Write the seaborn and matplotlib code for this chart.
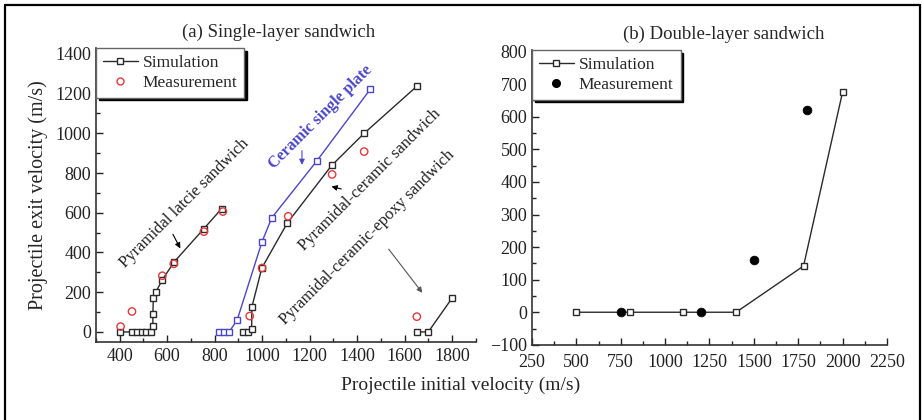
import numpy as np
import pandas as pd
import matplotlib
matplotlib.use('Agg')
import matplotlib.pyplot as plt
from matplotlib.lines import Line2D
from matplotlib.ticker import MultipleLocator
import seaborn as sns

# ─── Datos: (a) sandwich de una capa ────────────────────────────────────────
lattice_sim_v0 = [400, 453, 473, 493, 513, 532, 540, 540, 542, 553, 580, 630, 755, 830]
lattice_sim_vr = [0, 0, 0, 0, 0, 0, 30, 90, 172, 202, 263, 353, 520, 621]
lattice_exp_v0 = [404, 452, 580, 628, 755, 835]
lattice_exp_vr = [27, 103, 283, 343, 505, 606]

plate_sim_v0 = [819, 840, 861, 895, 1000, 1041, 1232, 1456]
plate_sim_vr = [0, 0, 0, 60, 455, 575, 863, 1222]

pc_sim_v0 = [918, 940, 956, 957, 999, 1106, 1293, 1430, 1652]
pc_sim_vr = [0, 0, 15, 125, 322, 548, 838, 1000, 1237]
pc_exp_v0 = [948, 1000, 1110, 1295, 1430]
pc_exp_vr = [80, 322, 582, 793, 908]

pce_sim_v0 = [1652, 1700, 1800]
pce_sim_vr = [0, 0, 170]
pce_exp_v0 = [1652]
pce_exp_vr = [77]

# ─── Datos: (b) sandwich de doble capa ──────────────────────────────────────
double_sim_v0 = [500, 800, 1100, 1400, 1780, 2000]
double_sim_vr = [0, 0, 0, 0, 142, 676]
double_exp_v0 = [750, 1200, 1500, 1800]
double_exp_vr = [0, 0, 160, 622]

# ─── Estilo ─────────────────────────────────────────────────────────────────
sns.set_style('ticks')
plt.rcParams['font.family'] = ['Liberation Serif', 'DejaVu Serif']

BLACK = '#2a2a2a'
BLUE = '#4a46c8'
RED = '#e03a3a'

sim_kw = dict(marker='s', markersize=5, markerfacecolor='white',
              markeredgewidth=1.0, linewidth=1.0,
              estimator=None, sort=False)


def sim_line(ax, x, y, color, label=None):
    df = pd.DataFrame({'v0': x, 'vr': y})
    sns.lineplot(data=df, x='v0', y='vr', ax=ax, color=color,
                 markeredgecolor=color, label=label, legend=False, **sim_kw)


def exp_points(ax, x, y, filled=False, label=None):
    df = pd.DataFrame({'v0': x, 'vr': y})
    if filled:
        sns.scatterplot(data=df, x='v0', y='vr', ax=ax, color='black',
                        s=40, marker='o', edgecolor='black', label=label,
                        legend=False, zorder=3)
    else:
        sns.scatterplot(data=df, x='v0', y='vr', ax=ax, facecolor='none',
                        edgecolor=RED, s=28, marker='o', linewidth=1.0,
                        label=label, legend=False, zorder=3)


def style_axis(ax, xpad=4.5):
    sns.despine(ax=ax)
    for sp in ['left', 'bottom']:
        ax.spines[sp].set_linewidth(1.2)
        ax.spines[sp].set_color('#333333')
    ax.tick_params(which='both', direction='in', labelsize=13, colors='#222222')
    ax.tick_params(which='major', length=5, width=1)
    ax.tick_params(which='minor', length=3, width=1)
    ax.tick_params(axis='x', pad=xpad)
    ax.set_xlabel('')
    ax.set_ylabel('')


def add_legend(ax, handles):
    ax.legend(handles, ['Simulation', 'Measurement'], loc='upper left',
              bbox_to_anchor=(0.0, 1.0), fontsize=12.5, frameon=True,
              fancybox=False, edgecolor='#666666', framealpha=1,
              shadow={'color': 'black', 'alpha': 1}, handlelength=2.0,
              handletextpad=0.3, borderpad=0.4, labelspacing=0.2,
              borderaxespad=0.0)


fig = plt.figure(figsize=(9.22, 4.2), dpi=100)
ax_a = fig.add_axes([0.104, 0.186, 0.412, 0.700])
ax_b = fig.add_axes([0.577, 0.179, 0.385, 0.702])

# ─── Panel (a) ──────────────────────────────────────────────────────────────
sim_line(ax_a, lattice_sim_v0, lattice_sim_vr, BLACK)
sim_line(ax_a, plate_sim_v0, plate_sim_vr, BLUE)
sim_line(ax_a, pc_sim_v0, pc_sim_vr, BLACK)
sim_line(ax_a, pce_sim_v0, pce_sim_vr, BLACK)
exp_points(ax_a, lattice_exp_v0, lattice_exp_vr)
exp_points(ax_a, pc_exp_v0, pc_exp_vr)
exp_points(ax_a, pce_exp_v0, pce_exp_vr)

ax_a.set_xlim(300, 1900)
ax_a.set_ylim(-50, 1430)
ax_a.set_xticks(np.arange(400, 1801, 200))
ax_a.xaxis.set_minor_locator(MultipleLocator(100))
ax_a.set_yticks(np.arange(0, 1401, 200))
ax_a.yaxis.set_minor_locator(MultipleLocator(100))
style_axis(ax_a)
ax_a.set_title('(a) Single-layer sandwich', fontsize=13.5, pad=8, x=0.48)

txt_kw = dict(rotation=45, ha='center', va='center', fontsize=12,
              rotation_mode='anchor', color='#222222')
ax_a.text(674, 648, 'Pyramidal latcie sandwich', **txt_kw)
ax_a.text(1452, 764, 'Pyramidal-ceramic sandwich', **txt_kw)
ax_a.text(1442, 476, 'Pyramidal-ceramic-epoxy sandwich', **txt_kw)
ax_a.text(1248, 1081, 'Ceramic single plate', rotation=45, ha='center',
          va='center', rotation_mode='anchor', fontsize=11.5,
          fontweight='bold', color=BLUE)

arr = dict(arrowstyle='-|>', mutation_scale=8, linewidth=0.8)
ax_a.annotate('', xy=(661, 408), xytext=(619, 504),
              arrowprops=dict(color='black', **arr))
ax_a.annotate('', xy=(1168, 827), xytext=(1168, 927),
              arrowprops=dict(color=BLUE, **arr))
ax_a.annotate('', xy=(1281, 736), xytext=(1345, 716),
              arrowprops=dict(color='black', **arr))
ax_a.annotate('', xy=(1682, 186), xytext=(1526, 428),
              arrowprops=dict(color='#555555', **arr))

add_legend(ax_a, [
    Line2D([], [], color=BLACK, marker='s', markersize=5,
           markerfacecolor='white', markeredgecolor=BLACK, linewidth=1.0),
    Line2D([], [], color=RED, marker='o', markersize=5, linestyle='none',
           markerfacecolor='none', markeredgecolor=RED),
])

# ─── Panel (b) ──────────────────────────────────────────────────────────────
sim_line(ax_b, double_sim_v0, double_sim_vr, BLACK)
exp_points(ax_b, double_exp_v0, double_exp_vr, filled=True)

ax_b.set_xlim(250, 2250)
ax_b.set_ylim(-100, 805)
ax_b.set_xticks(np.arange(250, 2251, 250))
ax_b.xaxis.set_minor_locator(MultipleLocator(125))
ax_b.set_yticks(np.arange(-100, 801, 100))
ax_b.yaxis.set_minor_locator(MultipleLocator(50))
style_axis(ax_b, xpad=6.5)
ax_b.set_title('(b) Double-layer sandwich', fontsize=13.5, pad=8, x=0.54)

add_legend(ax_b, [
    Line2D([], [], color=BLACK, marker='s', markersize=5,
           markerfacecolor='white', markeredgecolor=BLACK, linewidth=1.0),
    Line2D([], [], color='black', marker='o', markersize=5.5, linestyle='none'),
])

# ─── Etiquetas comunes ──────────────────────────────────────────────────────
fig.text(0.50, 0.083, 'Projectile initial velocity (m/s)', ha='center',
         va='center', fontsize=14)
fig.text(0.041, 0.535, 'Projectile exit velocity (m/s)', ha='center',
         va='center', rotation=90, fontsize=14.5)

# Marco exterior (izquierda, arriba, derecha)
W, H = 922, 420
frame_kw = dict(color='black', linewidth=1.6, transform=fig.transFigure)
fig.add_artist(Line2D([5 / W, 5 / W], [0, 1 - 5 / H], **frame_kw))
fig.add_artist(Line2D([5 / W, 920 / W], [1 - 5 / H, 1 - 5 / H], **frame_kw))
fig.add_artist(Line2D([920 / W, 920 / W], [0, 1 - 5 / H], **frame_kw))

fig.savefig('out.png', dpi=100, facecolor='white')
